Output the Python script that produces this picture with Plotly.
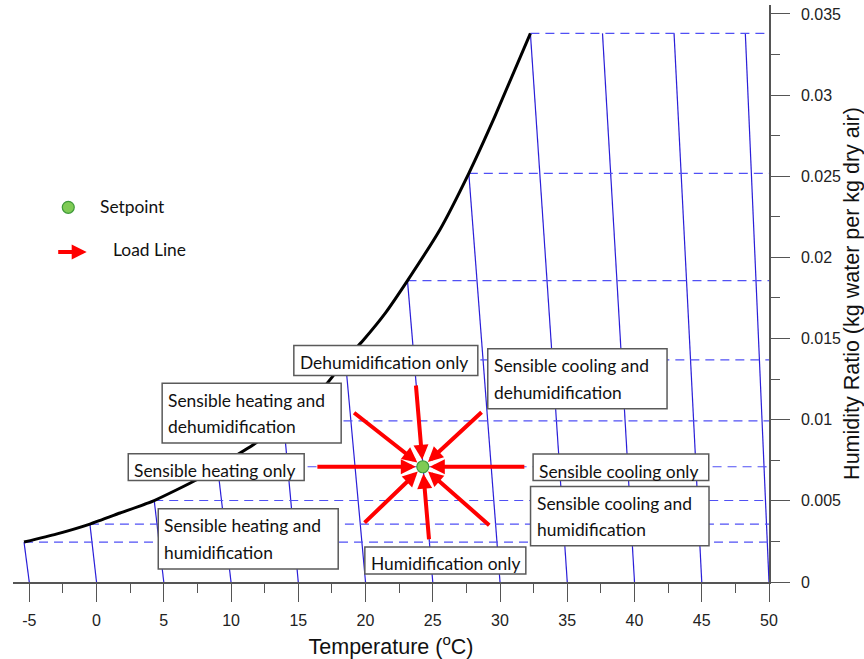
import plotly.graph_objects as go

# ---------------- data ----------------
# Saturation curve: dry-bulb temperature (degC) and humidity ratio (kg/kg)
sat_T = [-5.39, -3.0, -0.49, 1.75, 4.29, 7.44, 9.0, 11.65, 13.9, 17.1, 18.5,
         19.83, 21.5, 23.12, 25.52, 27.68, 29.61, 32.26]
sat_W = [0.00246, 0.00295, 0.00357, 0.00425, 0.00502, 0.0063, 0.0071, 0.00845,
         0.00993, 0.0122, 0.01369, 0.0149, 0.0166, 0.01857, 0.02169, 0.02518,
         0.02867, 0.0338]

# Sloped guide lines: foot on W = 0, head on the saturation curve / chart top
guide_base_T = [-5, 0, 5, 10, 15, 20, 25, 30, 35, 40, 45, 50]
guide_top_T = [-5.39, -0.49, 4.29, 9.0, 13.9, 18.5, 23.12, 27.68, 32.26,
               37.62, 42.94, 48.24]
guide_top_W = [0.00246, 0.00357, 0.00502, 0.0071, 0.00993, 0.01369, 0.01857,
               0.02518, 0.0338, 0.0338, 0.0338, 0.0338]

# Constant humidity-ratio lines, from the saturation curve to 50 degC
const_W = [0.00246, 0.00357, 0.00502, 0.0071, 0.00993, 0.01369, 0.01857,
           0.02518, 0.0338]
const_W_start_T = [-5.39, -0.49, 4.29, 9.0, 13.9, 18.5, 23.12, 27.68, 32.26]
const_W_end_T = 50

# Setpoint and load-line tails
setpoint_T = 24.26
setpoint_W = 0.0071
load_tail_T = [23.74, 28.74, 31.92, 29.31, 24.73, 19.82, 16.31, 19.04]
load_tail_W = [0.0122, 0.01055, 0.0071, 0.00342, 0.00254, 0.00357, 0.0071, 0.0105]

# Process labels
region_labels = [
    ["Dehumidification only"],
    ["Sensible cooling and", "dehumidification"],
    ["Sensible heating and", "dehumidification"],
    ["Sensible heating only"],
    ["Sensible heating and", "humidification"],
    ["Humidification only"],
    ["Sensible cooling only"],
    ["Sensible cooling and", "humidification"],
]

# Axis ticks
x_ticks = [-5, 0, 5, 10, 15, 20, 25, 30, 35, 40, 45, 50]
x_ticklabels = ["-5", "0", "5", "10", "15", "20", "25", "30", "35", "40", "45", "50"]
y_ticks = [0, 0.005, 0.01, 0.015, 0.02, 0.025, 0.03, 0.035]
y_ticklabels = ["0", "0.005", "0.01", "0.015", "0.02", "0.025", "0.03", "0.035"]

# ---------------- layout constants ----------------
X_RANGE = [-6.21, 50]
Y_RANGE = [0, 0.03555]
PLOT_W_PX = 756
PLOT_H_PX = 577
W_PER_PX = (Y_RANGE[1] - Y_RANGE[0]) / PLOT_H_PX
T_PER_PX = (X_RANGE[1] - X_RANGE[0]) / PLOT_W_PX

# Label boxes: x0, x1, top, bottom (data units)
box_frames = [
    (14.67, 28.35, 0.01457, 0.01272),
    (29.09, 42.42, 0.01437, 0.01067),
    (4.88, 18.19, 0.01225, 0.00856),
    (2.36, 15.44, 0.0079, 0.00626),
    (4.59, 17.97, 0.00451, 0.0008),
    (19.95, 31.92, 0.00216, 0.00049),
    (32.46, 45.52, 0.00788, 0.00626),
    (32.27, 45.54, 0.00589, 0.00224),
]

LABEL_FONT = dict(family="Lato", size=17.4, color="#111111")
AXIS_FONT = dict(family="Liberation Sans", size=16, color="#222222")
GREEN_FILL = "#7fcb55"
GREEN_EDGE = "#3f9a3a"

fig = go.Figure()

# Sloped guide lines
gx, gy = [], []
for t0, t1, w1 in zip(guide_base_T, guide_top_T, guide_top_W):
    gx += [t0, t1, None]
    gy += [0, w1, None]
fig.add_trace(go.Scatter(x=gx, y=gy, mode="lines",
                         line=dict(color="#2a1ed8", width=1.2),
                         hoverinfo="skip", showlegend=False))

# Constant humidity-ratio (dashed) lines
hx, hy = [], []
for t0, w in zip(const_W_start_T, const_W):
    hx += [t0, const_W_end_T, None]
    hy += [w, w, None]
fig.add_trace(go.Scatter(x=hx, y=hy, mode="lines",
                         line=dict(color="#5050f5", width=1.2, dash="9px,6px"),
                         hoverinfo="skip", showlegend=False))

# Saturation curve
fig.add_trace(go.Scatter(x=sat_T, y=sat_W, mode="lines",
                         line=dict(color="black", width=3, shape="spline", smoothing=0.5),
                         hoverinfo="skip", showlegend=False))

# Setpoint
fig.add_trace(go.Scatter(x=[setpoint_T], y=[setpoint_W], mode="markers",
                         marker=dict(size=12, color=GREEN_FILL,
                                     line=dict(color=GREEN_EDGE, width=1.2)),
                         name="Setpoint", showlegend=False))

annotations = []
shapes = []

# Load lines (arrows toward setpoint)
for t, w in zip(load_tail_T, load_tail_W):
    annotations.append(dict(
        x=setpoint_T, y=setpoint_W, xref="x", yref="y",
        ax=t, ay=w, axref="x", ayref="y",
        text="", showarrow=True, arrowhead=2, arrowsize=0.75,
        arrowwidth=4, arrowcolor="#ff0000", standoff=7))

# Label boxes and their text
for lines, (x0, x1, top, bottom) in zip(region_labels, box_frames):
    shapes.append(dict(type="rect", xref="x", yref="y",
                       x0=x0, x1=x1, y0=bottom, y1=top,
                       line=dict(color="#5a5a5a", width=1.5),
                       fillcolor="white", layer="above"))
    for i, txt in enumerate(lines):
        annotations.append(dict(
            x=x0 + 4 * T_PER_PX, y=top - (17 + 26.5 * i) * W_PER_PX,
            xref="x", yref="y", xanchor="left", yanchor="middle",
            text=txt, showarrow=False, font=LABEL_FONT))

# Legend
shapes.append(dict(type="circle", xref="paper", yref="paper",
                   xsizemode="pixel", ysizemode="pixel",
                   xanchor=0.0731, yanchor=0.6494,
                   x0=-6, x1=6, y0=-6, y1=6,
                   fillcolor=GREEN_FILL, line=dict(color=GREEN_EDGE, width=1.2),
                   layer="above"))
annotations.append(dict(x=0.1128, y=0.6516, xref="paper", yref="paper",
                        xanchor="left", yanchor="middle", text="Setpoint",
                        showarrow=False, font=LABEL_FONT))
annotations.append(dict(x=0.0975, y=0.572, xref="paper", yref="paper",
                        ax=-30, ay=0, text="", showarrow=True, arrowhead=2,
                        arrowsize=0.75, arrowwidth=4, arrowcolor="#ff0000"))
annotations.append(dict(x=0.1296, y=0.577, xref="paper", yref="paper",
                        xanchor="left", yanchor="middle", text="Load Line",
                        showarrow=False, font=LABEL_FONT))

axis_line = "#555555"
fig.update_layout(
    width=864, height=659,
    margin=dict(l=13, r=95, t=5, b=77, autoexpand=False),
    paper_bgcolor="white", plot_bgcolor="white",
    showlegend=False,
    shapes=shapes, annotations=annotations,
    xaxis=dict(range=X_RANGE, showgrid=False, zeroline=False, automargin=False,
               showline=True, linecolor=axis_line, linewidth=1.5,
               tickmode="array", tickvals=x_ticks, ticktext=x_ticklabels,
               ticks="outside", ticklen=18, tickwidth=1.2, tickcolor=axis_line,
               tickfont=AXIS_FONT, ticklabelstandoff=5,
               minor=dict(tickmode="linear", tick0=0, dtick=2.5, ticks="outside",
                          ticklen=9, tickwidth=1.2, tickcolor=axis_line),
               title=dict(text="Temperature (<sup>o</sup>C)",
                          font=dict(family="Liberation Sans", size=21.5, color="#111111"))),
    yaxis=dict(range=Y_RANGE, side="right", showgrid=False, zeroline=False,
               automargin=False,
               showline=True, linecolor=axis_line, linewidth=1.5,
               tickmode="array", tickvals=y_ticks, ticktext=y_ticklabels,
               ticks="outside", ticklen=19, tickwidth=1.2, tickcolor=axis_line,
               tickfont=AXIS_FONT, ticklabelstandoff=8,
               minor=dict(tickmode="linear", tick0=0, dtick=0.0025, ticks="outside",
                          ticklen=9, tickwidth=1.2, tickcolor=axis_line),
               title=dict(text="Humidity Ratio (kg water per kg dry air)",
                          font=dict(family="Liberation Sans", size=21.5, color="#111111"))),
)

fig.write_html("out.html")
